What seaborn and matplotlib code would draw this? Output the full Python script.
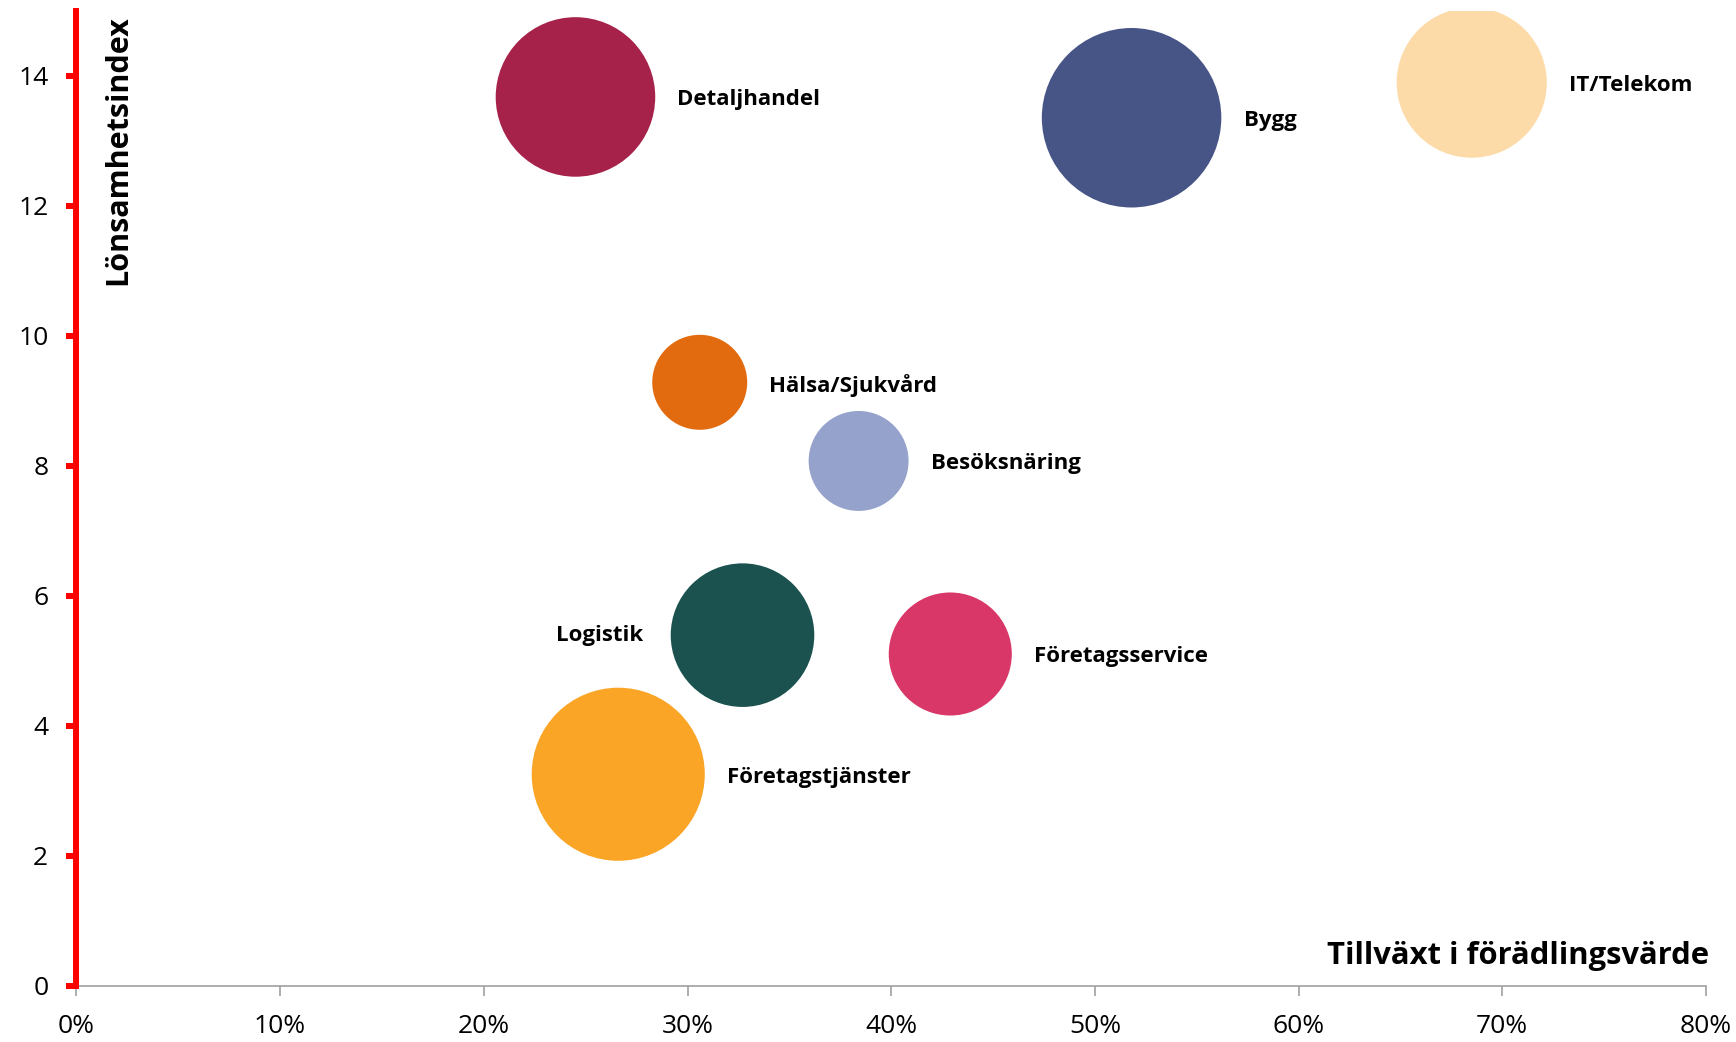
import numpy as np
import pandas as pd
import matplotlib
matplotlib.use("Agg")
import matplotlib.pyplot as plt
import seaborn as sns
from matplotlib.ticker import PercentFormatter, FixedLocator

# ---- data ----
branscher = ["Detaljhandel", "Bygg", "IT/Telekom", "Hälsa/Sjukvård", "Besöksnäring",
             "Logistik", "Företagsservice", "Företagstjänster"]
tillvaxt = [24.5, 51.8, 68.5, 30.6, 38.4, 32.7, 42.9, 26.6]             # % growth in value added
lonsamhet = [13.67, 13.35, 13.89, 9.28, 8.07, 5.39, 5.10, 3.25]         # profitability index
storlek = [79, 100, 70, 28, 31, 64, 47, 93]                             # bubble size (area)
farger = ["#A6224A", "#475486", "#FDDBA8", "#E16B0E", "#95A2CB",
          "#1B524F", "#D83767", "#FBA527"]
x_ticks = [0, 10, 20, 30, 40, 50, 60, 70, 80]
y_ticks = [0, 2, 4, 6, 8, 10, 12, 14]

df = pd.DataFrame({"bransch": branscher, "x": tillvaxt, "y": lonsamhet, "s": storlek})

sns.set_style("white")
plt.rcParams["font.family"] = ["Open Sans", "DejaVu Sans"]

fig = plt.figure(figsize=(17.36, 10.42), dpi=100)
ax = fig.add_axes([76.4 / 1736, 56.5 / 1042, 1629.6 / 1736, 975 / 1042])

SMAX = 16700
sns.scatterplot(data=df, x="x", y="y", hue="bransch", palette=dict(zip(branscher, farger)),
                size="s", sizes=(0, SMAX), size_norm=(0, 100), legend=False,
                linewidth=0, alpha=1, ax=ax, zorder=3)

ax.set_xlim(0, 80)
ax.set_ylim(0, 15)
ax.xaxis.set_major_locator(FixedLocator(x_ticks))
ax.yaxis.set_major_locator(FixedLocator(y_ticks))
ax.xaxis.set_major_formatter(PercentFormatter(decimals=0))
ax.set_xlabel("")
ax.set_ylabel("")

for sp in ["top", "right"]:
    ax.spines[sp].set_visible(False)
ax.spines["left"].set_color("#FF0000")
ax.spines["left"].set_linewidth(4.3)
ax.spines["bottom"].set_color("#A0A0A0")
ax.spines["bottom"].set_linewidth(1.2)
ax.spines["left"].set_zorder(5)

ax.tick_params(axis="y", direction="out", length=7.2, width=4.3, color="#FF0000",
               labelsize=19, pad=13, left=True, labelcolor="#000000")
ax.tick_params(axis="x", direction="out", length=7.5, width=1.2, color="#A0A0A0",
               labelsize=19, pad=13, bottom=True, labelcolor="#000000")

# labels
for i, row in df.iterrows():
    r_pt = np.sqrt(row["s"] / 100 * SMAX) / 2
    if row["bransch"] == "Logistik":
        ax.annotate(row["bransch"], (row["x"], row["y"]), xytext=(-(r_pt + 20), 0),
                    textcoords="offset points", ha="right", va="center",
                    fontsize=16, fontweight="bold", color="#000000")
    else:
        ax.annotate(row["bransch"], (row["x"], row["y"]), xytext=(r_pt + 16, -2),
                    textcoords="offset points", ha="left", va="center",
                    fontsize=16, fontweight="bold", color="#000000")

ax.text(0.0255, 0.9954, "Lönsamhetsindex", transform=ax.transAxes, rotation=90,
        ha="center", va="top", fontsize=22, fontweight="bold", color="#000000")
ax.text(1.0018, 0.0145, "Tillväxt i förädlingsvärde", transform=ax.transAxes,
        ha="right", va="bottom", fontsize=22.3, fontweight="bold", color="#000000")

fig.savefig("out.png", dpi=100)
